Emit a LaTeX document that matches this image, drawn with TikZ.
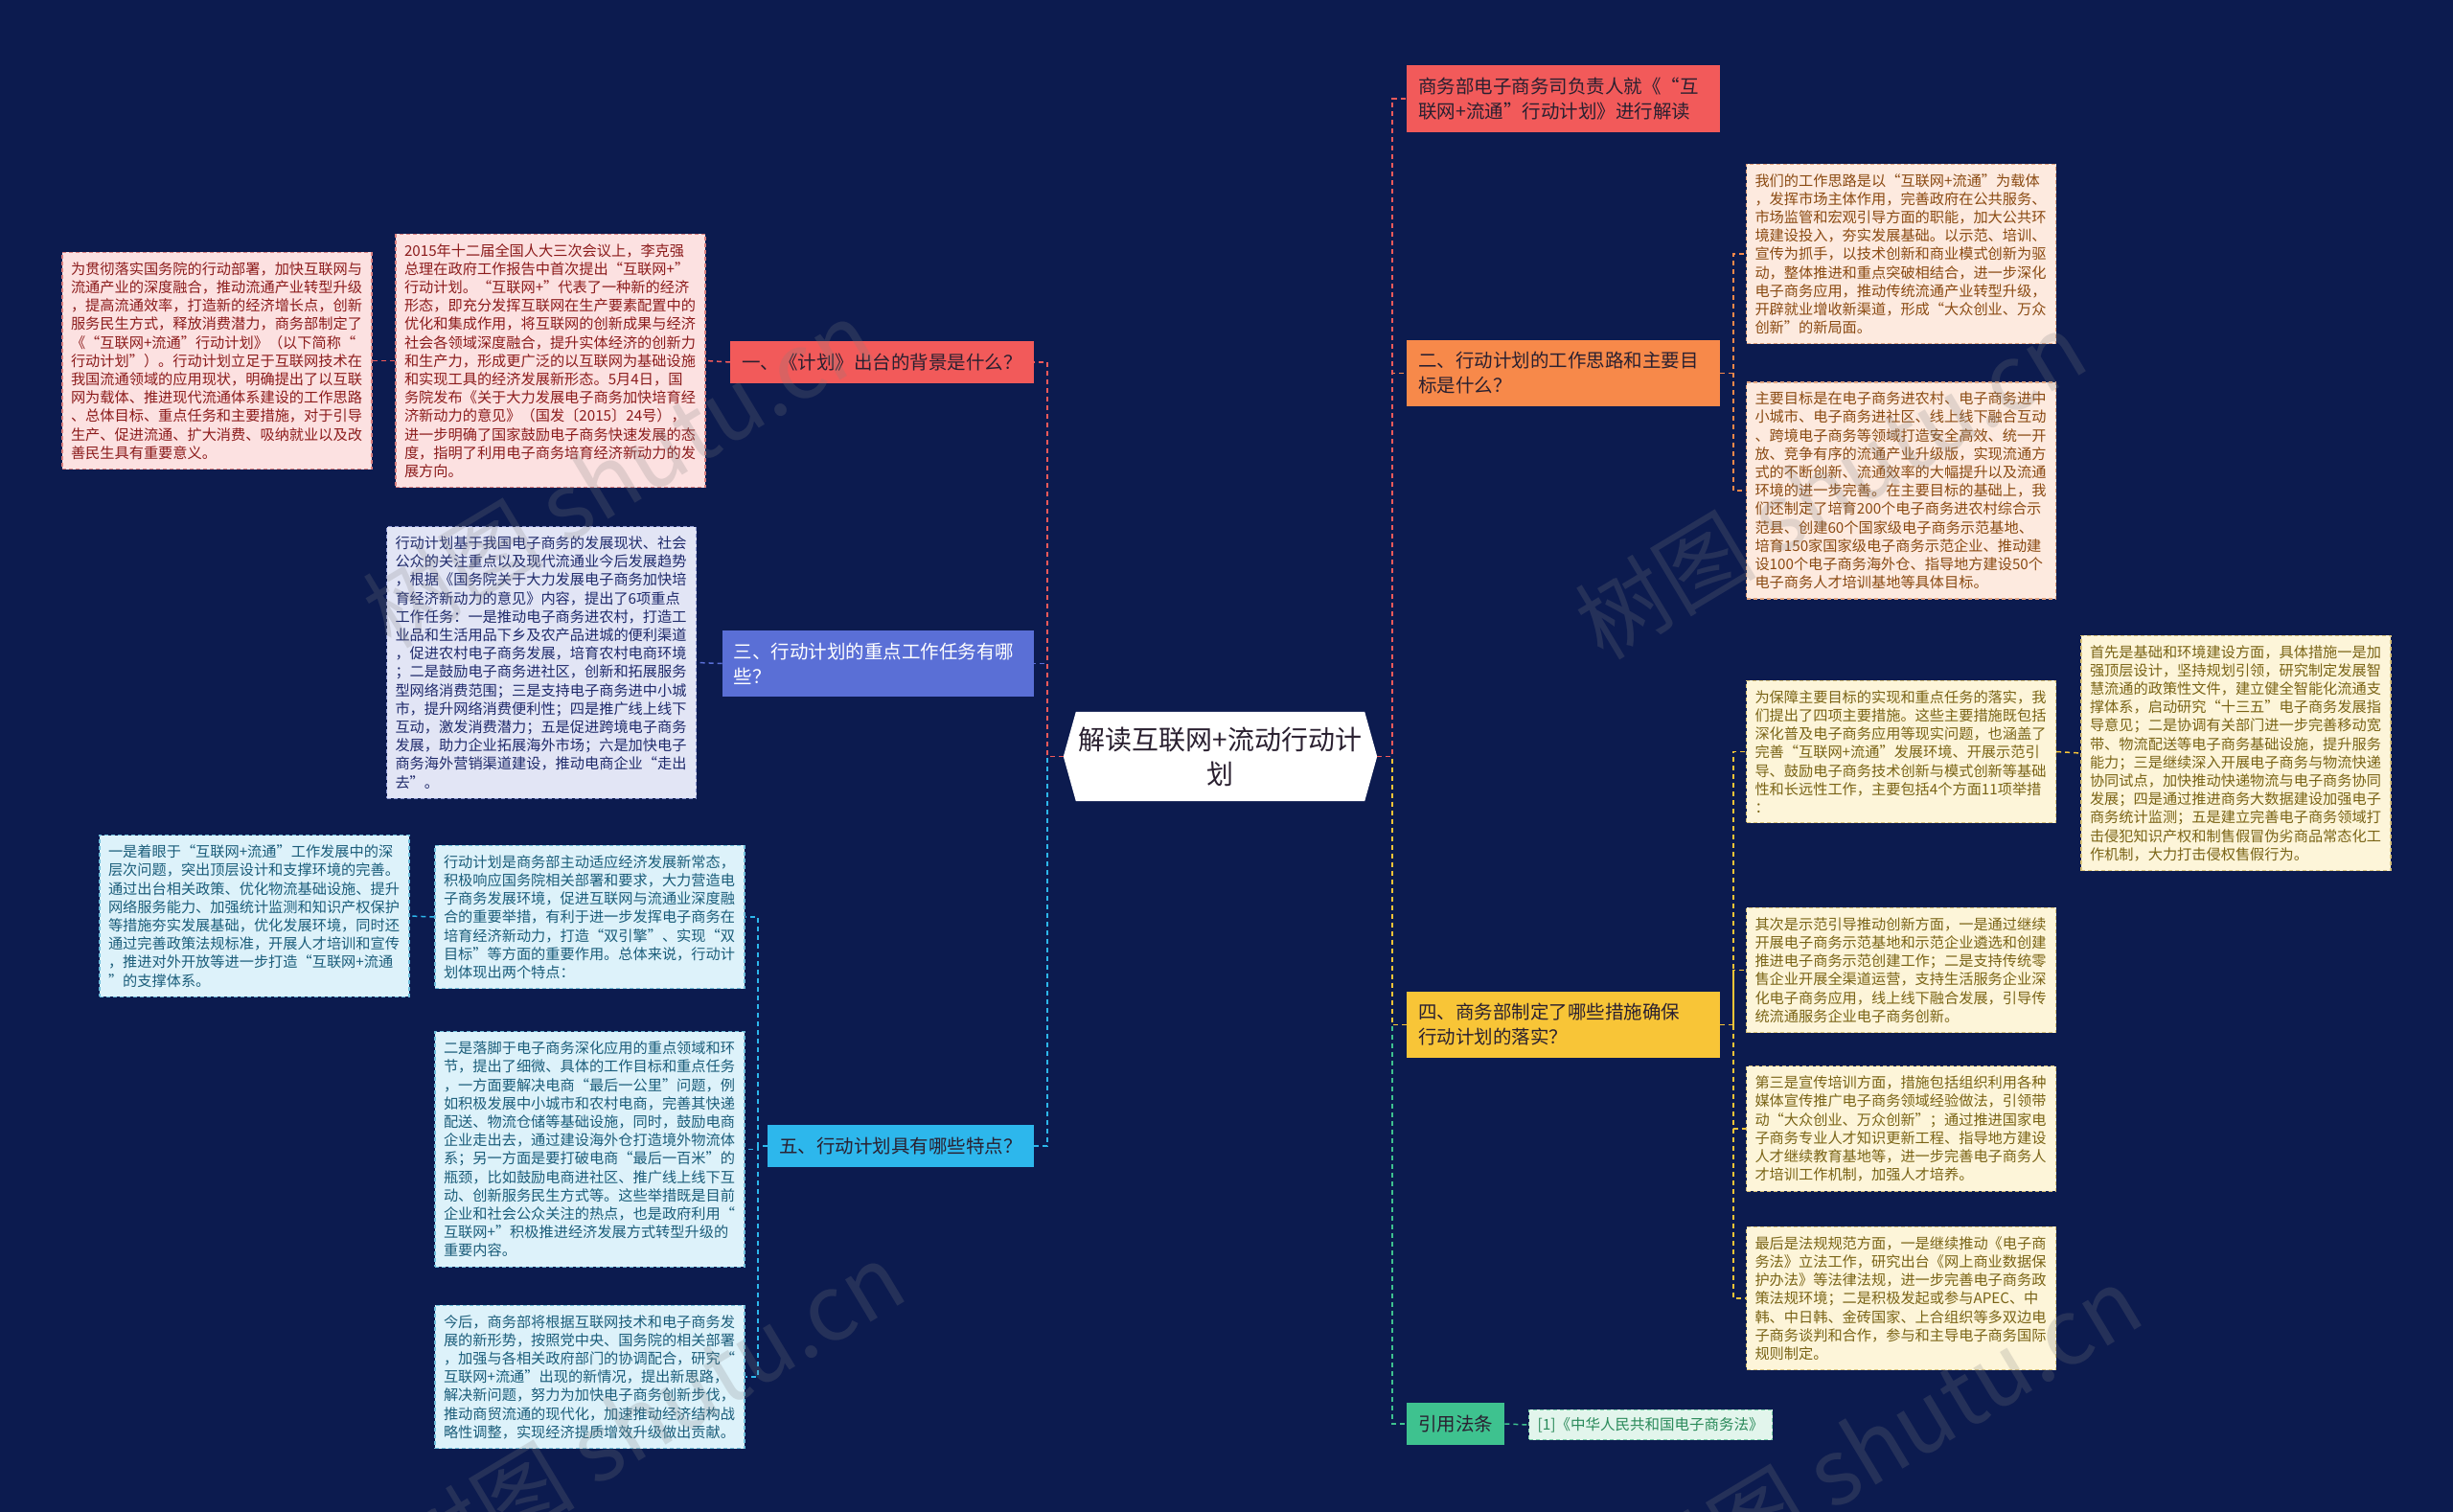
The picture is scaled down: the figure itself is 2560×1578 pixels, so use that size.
\documentclass[tikz,border=0pt]{standalone}
\usepackage{fontspec}
\setmainfont{Noto Sans CJK SC}
\usetikzlibrary{backgrounds}
\definecolor{bgc}{HTML}{0C1B4F}
\definecolor{cred}{HTML}{F25A5A}
\definecolor{cblue}{HTML}{5A6FD6}
\definecolor{ccyan}{HTML}{2DB7EC}
\definecolor{corange}{HTML}{F7894A}
\definecolor{cyellow}{HTML}{F8C537}
\definecolor{cgreen}{HTML}{3EC28F}
\definecolor{darktxt}{HTML}{2A2030}
\definecolor{pinkf}{HTML}{FCE1E1}
\definecolor{pinkd}{HTML}{D98080}
\definecolor{pinkt}{HTML}{8C1C1C}
\definecolor{lavf}{HTML}{E2E5F5}
\definecolor{lavd}{HTML}{8D97CF}
\definecolor{lavt}{HTML}{1F2A6B}
\definecolor{skyf}{HTML}{DDF2FA}
\definecolor{skyd}{HTML}{6FBFDB}
\definecolor{skyt}{HTML}{1B5D7A}
\definecolor{peachf}{HTML}{FDEADF}
\definecolor{peachd}{HTML}{E0A27E}
\definecolor{peacht}{HTML}{8A4A12}
\definecolor{creamf}{HTML}{FDF5D9}
\definecolor{creamd}{HTML}{D9C27A}
\definecolor{creamt}{HTML}{7A6416}
\definecolor{greenf}{HTML}{E2F5EC}
\definecolor{greend}{HTML}{7CCFA8}
\definecolor{greent}{HTML}{2A8A5A}
\begin{document}
\begin{tikzpicture}[x=1pt,y=-1pt,
  leafbase/.style={rectangle, draw, dashed, dash pattern=on 4pt off 3pt, line width=1.2pt,
    text width=305pt, inner xsep=9pt, inner ysep=10pt, align=left,
    font=\fontsize{15.2}{19.2}\selectfont},
  pinkleaf/.style={leafbase, fill=pinkf, draw=pinkd, text=pinkt},
  lavleaf/.style={leafbase, fill=lavf, draw=lavd, text=lavt},
  skyleaf/.style={leafbase, fill=skyf, draw=skyd, text=skyt},
  peachleaf/.style={leafbase, fill=peachf, draw=peachd, text=peacht},
  creamleaf/.style={leafbase, fill=creamf, draw=creamd, text=creamt},
  branch/.style={rectangle, inner xsep=12pt, inner ysep=12.5pt, align=left,
    font=\fontsize{19.5}{26}\selectfont, text=darktxt},
  conn/.style={dashed, dash pattern=on 5pt off 4pt, line width=1.5pt},
  wmark/.style={rotate=31, text=gray, text opacity=0.22, font=\fontsize{95}{100}\selectfont}
]
\useasboundingbox (0,0) rectangle (2560,1578);

% central node
\node[minimum width=327pt, minimum height=93pt, align=center, inner sep=0pt,
  font=\fontsize{28}{36}\selectfont, text=darktxt] (c) at (1273.5,789.5) {解读互联网+流动行动计\\划};
\begin{scope}[on background layer]
\fill[bgc] (0,0) rectangle (2560,1578);
\fill[white] ([xshift=13pt]c.north west) -- ([xshift=-13pt]c.north east) -- (c.east)
  -- ([xshift=-13pt]c.south east) -- ([xshift=13pt]c.south west) -- (c.west) -- cycle;
\end{scope}

% branches
\node[branch, anchor=east, fill=cred] (B1) at (1079,378) {一、《计划》出台的背景是什么？};
\node[branch, anchor=east, fill=cblue, text=white, text width=301pt] (B3) at (1079,692.5) {三、行动计划的重点工作任务有哪\\些？};
\node[branch, anchor=east, fill=ccyan] (B5) at (1079,1196) {五、行动计划具有哪些特点？};
\node[branch, anchor=west, fill=cred, text width=303pt] (R0) at (1468,103) {商务部电子商务司负责人就《“互\\联网+流通”行动计划》进行解读};
\node[branch, anchor=west, fill=corange, text width=303pt] (R2) at (1468,389.5) {二、行动计划的工作思路和主要目\\标是什么？};
\node[branch, anchor=west, fill=cyellow, text width=303pt] (R4) at (1468,1069.5) {四、商务部制定了哪些措施确保\\行动计划的落实？};
\node[branch, anchor=west, fill=cgreen] (R6) at (1468,1486) {引用法条};
\node[rectangle, draw=greend, dashed, dash pattern=on 4pt off 3pt, line width=1.2pt, fill=greenf, text=greent,
  inner xsep=9pt, inner ysep=8pt, font=\fontsize{15.5}{19}\selectfont, anchor=west] (R6a) at (1595,1487) {[1]《中华人民共和国电子商务法》};

% leaves left
\node[pinkleaf] (L1a) at (574.5,376.5) {2015年十二届全国人大三次会议上，李克强\\总理在政府工作报告中首次提出“互联网+”\\行动计划。“互联网+”代表了一种新的经济\\形态，即充分发挥互联网在生产要素配置中的\\优化和集成作用，将互联网的创新成果与经济\\社会各领域深度融合，提升实体经济的创新力\\和生产力，形成更广泛的以互联网为基础设施\\和实现工具的经济发展新形态。5月4日，国\\务院发布《关于大力发展电子商务加快培育经\\济新动力的意见》（国发〔2015〕24号），\\进一步明确了国家鼓励电子商务快速发展的态\\度，指明了利用电子商务培育经济新动力的发\\展方向。};
\node[pinkleaf] (L1b) at (226.5,376.5) {为贯彻落实国务院的行动部署，加快互联网与\\流通产业的深度融合，推动流通产业转型升级\\，提高流通效率，打造新的经济增长点，创新\\服务民生方式，释放消费潜力，商务部制定了\\《“互联网+流通”行动计划》（以下简称“\\行动计划”）。行动计划立足于互联网技术在\\我国流通领域的应用现状，明确提出了以互联\\网为载体、推进现代流通体系建设的工作思路\\、总体目标、重点任务和主要措施，对于引导\\生产、促进流通、扩大消费、吸纳就业以及改\\善民生具有重要意义。};
\node[lavleaf] (L3) at (565,691.5) {行动计划基于我国电子商务的发展现状、社会\\公众的关注重点以及现代流通业今后发展趋势\\，根据《国务院关于大力发展电子商务加快培\\育经济新动力的意见》内容，提出了6项重点\\工作任务：一是推动电子商务进农村，打造工\\业品和生活用品下乡及农产品进城的便利渠道\\，促进农村电子商务发展，培育农村电商环境\\；二是鼓励电子商务进社区，创新和拓展服务\\型网络消费范围；三是支持电子商务进中小城\\市，提升网络消费便利性；四是推广线上线下\\互动，激发消费潜力；五是促进跨境电子商务\\发展，助力企业拓展海外市场；六是加快电子\\商务海外营销渠道建设，推动电商企业“走出\\去”。};
\node[skyleaf] (L5a) at (615.5,957) {行动计划是商务部主动适应经济发展新常态，\\积极响应国务院相关部署和要求，大力营造电\\子商务发展环境，促进互联网与流通业深度融\\合的重要举措，有利于进一步发挥电子商务在\\培育经济新动力，打造“双引擎”、实现“双\\目标”等方面的重要作用。总体来说，行动计\\划体现出两个特点：};
\node[skyleaf] (L5b) at (265.5,956) {一是着眼于“互联网+流通”工作发展中的深\\层次问题，突出顶层设计和支撑环境的完善。\\通过出台相关政策、优化物流基础设施、提升\\网络服务能力、加强统计监测和知识产权保护\\等措施夯实发展基础，优化发展环境，同时还\\通过完善政策法规标准，开展人才培训和宣传\\，推进对外开放等进一步打造“互联网+流通\\”的支撑体系。};
\node[skyleaf] (L5c) at (615.5,1199.5) {二是落脚于电子商务深化应用的重点领域和环\\节，提出了细微、具体的工作目标和重点任务\\，一方面要解决电商“最后一公里”问题，例\\如积极发展中小城市和农村电商，完善其快递\\配送、物流仓储等基础设施，同时，鼓励电商\\企业走出去，通过建设海外仓打造境外物流体\\系；另一方面是要打破电商“最后一百米”的\\瓶颈，比如鼓励电商进社区、推广线上线下互\\动、创新服务民生方式等。这些举措既是目前\\企业和社会公众关注的热点，也是政府利用“\\互联网+”积极推进经济发展方式转型升级的\\重要内容。};
\node[skyleaf] (L5d) at (615.5,1437) {今后，商务部将根据互联网技术和电子商务发\\展的新形势，按照党中央、国务院的相关部署\\，加强与各相关政府部门的协调配合，研究“\\互联网+流通”出现的新情况，提出新思路，\\解决新问题，努力为加快电子商务创新步伐，\\推动商贸流通的现代化，加速推动经济结构战\\略性调整，实现经济提质增效升级做出贡献。};

% leaves right
\node[peachleaf] (R2a) at (1984,265) {我们的工作思路是以“互联网+流通”为载体\\，发挥市场主体作用，完善政府在公共服务、\\市场监管和宏观引导方面的职能，加大公共环\\境建设投入，夯实发展基础。以示范、培训、\\宣传为抓手，以技术创新和商业模式创新为驱\\动，整体推进和重点突破相结合，进一步深化\\电子商务应用，推动传统流通产业转型升级，\\开辟就业增收新渠道，形成“大众创业、万众\\创新”的新局面。};
\node[peachleaf] (R2b) at (1984,512) {主要目标是在电子商务进农村、电子商务进中\\小城市、电子商务进社区、线上线下融合互动\\、跨境电子商务等领域打造安全高效、统一开\\放、竞争有序的流通产业升级版，实现流通方\\式的不断创新、流通效率的大幅提升以及流通\\环境的进一步完善。在主要目标的基础上，我\\们还制定了培育200个电子商务进农村综合示\\范县、创建60个国家级电子商务示范基地、\\培育150家国家级电子商务示范企业、推动建\\设100个电子商务海外仓、指导地方建设50个\\电子商务人才培训基地等具体目标。};
\node[creamleaf] (R4a) at (1984,784.5) {为保障主要目标的实现和重点任务的落实，我\\们提出了四项主要措施。这些主要措施既包括\\深化普及电子商务应用等现实问题，也涵盖了\\完善“互联网+流通”发展环境、开展示范引\\导、鼓励电子商务技术创新与模式创新等基础\\性和长远性工作，主要包括4个方面11项举措\\：};
\node[creamleaf] (R4e) at (2333.5,786) {首先是基础和环境建设方面，具体措施一是加\\强顶层设计，坚持规划引领，研究制定发展智\\慧流通的政策性文件，建立健全智能化流通支\\撑体系，启动研究“十三五”电子商务发展指\\导意见；二是协调有关部门进一步完善移动宽\\带、物流配送等电子商务基础设施，提升服务\\能力；三是继续深入开展电子商务与物流快递\\协同试点，加快推动快递物流与电子商务协同\\发展；四是通过推进商务大数据建设加强电子\\商务统计监测；五是建立完善电子商务领域打\\击侵犯知识产权和制售假冒伪劣商品常态化工\\作机制，大力打击侵权售假行为。};
\node[creamleaf] (R4b) at (1984,1012.5) {其次是示范引导推动创新方面，一是通过继续\\开展电子商务示范基地和示范企业遴选和创建\\推进电子商务示范创建工作；二是支持传统零\\售企业开展全渠道运营，支持生活服务企业深\\化电子商务应用，线上线下融合发展，引导传\\统流通服务企业电子商务创新。};
\node[creamleaf] (R4c) at (1984,1178) {第三是宣传培训方面，措施包括组织利用各种\\媒体宣传推广电子商务领域经验做法，引领带\\动“大众创业、万众创新”；通过推进国家电\\子商务专业人才知识更新工程、指导地方建设\\人才继续教育基地等，进一步完善电子商务人\\才培训工作机制，加强人才培养。};
\node[creamleaf] (R4d) at (1984,1355) {最后是法规规范方面，一是继续推动《电子商\\务法》立法工作，研究出台《网上商业数据保\\护办法》等法律法规，进一步完善电子商务政\\策法规环境；二是积极发起或参与APEC、中\\韩、中日韩、金砖国家、上合组织等多双边电\\子商务谈判和合作，参与和主导电子商务国际\\规则制定。};

% trunk coordinates
\coordinate (tl) at (1093,789.5);
\coordinate (tr) at (1453,789.5);
\coordinate (t5) at (791,1196);
\coordinate (t2) at (1809,389.5);
\coordinate (t4) at (1809,1069.5);

% connectors center -> branches
\draw[conn, cblue] (c.west) -- (tl) |- (B3.east);
\draw[conn, ccyan] (c.west) -- (tl) |- (B5.east);
\draw[conn, cred] (c.west) -- (tl) |- (B1.east);
\draw[conn, cgreen] (c.east) -- (tr) |- (R6.west);
\draw[conn, cyellow] (c.east) -- (tr) |- (R4.west);
\draw[conn, corange] (c.east) -- (tr) |- (R2.west);
\draw[conn, cred] (c.east) -- (tr) |- (R0.west);

% branch -> leaves
\draw[conn, cred] (B1.west) -- (L1a.east);
\draw[conn, cred] (L1a.west) -- (L1b.east);
\draw[conn, cblue] (B3.west) -- (L3.east);
\draw[conn, ccyan] (B5.west) -- (t5) |- (L5a.east);
\draw[conn, ccyan] (t5) |- (L5c.east);
\draw[conn, ccyan] (t5) |- (L5d.east);
\draw[conn, ccyan] (L5a.west) -- (L5b.east);
\draw[conn, corange] (R2.east) -- (t2) |- (R2a.west);
\draw[conn, corange] (t2) |- (R2b.west);
\draw[conn, cyellow] (R4.east) -- (t4) |- (R4a.west);
\draw[conn, cyellow] (t4) |- (R4b.west);
\draw[conn, cyellow] (t4) |- (R4c.west);
\draw[conn, cyellow] (t4) |- (R4d.west);
\draw[conn, cyellow] (R4a.east) -- (R4e.west);
\draw[conn, cgreen] (R6.east) -- (R6a.west);

% watermarks
\node[wmark] (w1) at (645,494) {树图 shutu.cn};
\node[wmark] (w2) at (1910,506) {树图 shutu.cn};
\node[wmark] (w3) at (677,1477) {树图 shutu.cn};
\node[wmark] (w4) at (1968,1502) {树图 shutu.cn};
\end{tikzpicture}
\end{document}
